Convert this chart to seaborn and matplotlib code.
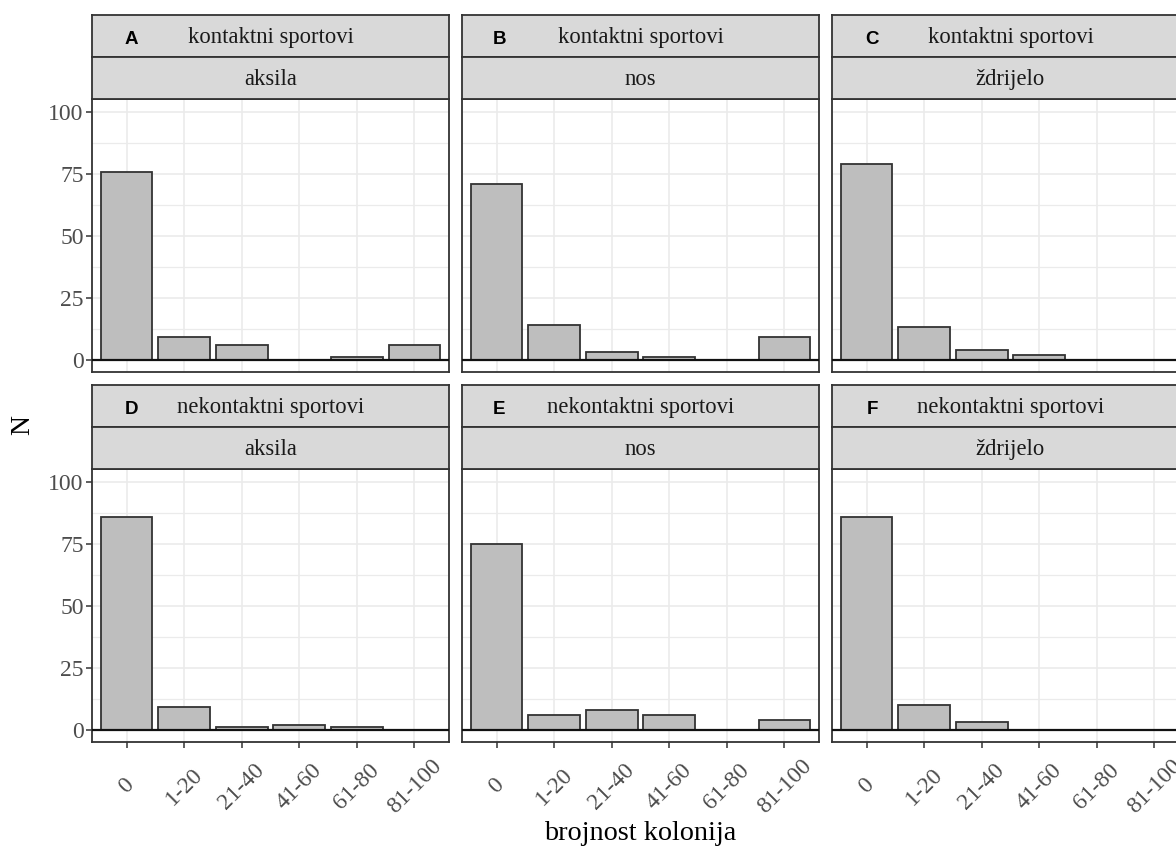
import matplotlib
matplotlib.use("Agg")
import matplotlib.pyplot as plt
import seaborn as sns
import pandas as pd
import numpy as np
from matplotlib.ticker import MultipleLocator

# ---------------- data ----------------
categories = ['0', '1-20', '21-40', '41-60', '61-80', '81-100']
sport_groups = ['kontaktni sportovi', 'nekontaktni sportovi']
sites = ['aksila', 'nos', 'ždrijelo']
panel_letters = ['A', 'B', 'C', 'D', 'E', 'F']

kontaktni_aksila = [76, 9, 6, 0, 1, 6]
kontaktni_nos = [71, 14, 3, 1, 0, 9]
kontaktni_zdrijelo = [79, 13, 4, 2, 0, 0]
nekontaktni_aksila = [86, 9, 1, 2, 1, 0]
nekontaktni_nos = [75, 6, 8, 6, 0, 4]
nekontaktni_zdrijelo = [86, 10, 3, 0, 0, 0]

series = {
    ('kontaktni sportovi', 'aksila'): kontaktni_aksila,
    ('kontaktni sportovi', 'nos'): kontaktni_nos,
    ('kontaktni sportovi', 'ždrijelo'): kontaktni_zdrijelo,
    ('nekontaktni sportovi', 'aksila'): nekontaktni_aksila,
    ('nekontaktni sportovi', 'nos'): nekontaktni_nos,
    ('nekontaktni sportovi', 'ždrijelo'): nekontaktni_zdrijelo,
}
rows = []
for (g, s), vals in series.items():
    for c, v in zip(categories, vals):
        rows.append({'grupa': g, 'mjesto': s, 'brojnost': c, 'N': v})
df = pd.DataFrame(rows)

# ---------------- style ----------------
sns.set_theme(style="white")
plt.rcParams['font.family'] = ['Liberation Serif', 'DejaVu Serif']

W, H = 1176, 847
fig = plt.figure(figsize=(W / 100, H / 100), dpi=100)

def fx(x):
    return x / W

def fy(y):
    return 1 - y / H

col_left = [92, 462, 832]
panel_w = 357
row_strip_top = [15, 385]
strip_h = 42
row_panel_top = [99, 469]
row_panel_bot = [372, 742]
letter_x = [131, 499, 872]

dark = '#333333'
grid_c = '#EBEBEB'
strip_c = '#D9D9D9'

for r, g in enumerate(sport_groups):
    for c, s in enumerate(sites):
        x0 = col_left[c]
        # panel
        ax = fig.add_axes([fx(x0), fy(row_panel_bot[r]), panel_w / W,
                           (row_panel_bot[r] - row_panel_top[r]) / H])
        sub = df[(df['grupa'] == g) & (df['mjesto'] == s)]
        sns.barplot(data=sub, x='brojnost', y='N', order=categories, ax=ax,
                    color='#BEBEBE', saturation=1, edgecolor=dark,
                    linewidth=1.3, width=0.9, errorbar=None, zorder=2)
        ax.axhline(0, color='#111111', lw=1.6, zorder=3)
        ax.set_xlim(-0.6, 5.6)
        ax.set_ylim(-5.0, 105.3)
        ax.set_yticks([0, 25, 50, 75, 100])
        ax.yaxis.set_minor_locator(MultipleLocator(12.5))
        ax.set_axisbelow(True)
        ax.grid(True, which='major', color=grid_c, lw=1.2, zorder=0)
        ax.grid(True, which='minor', axis='y', color=grid_c, lw=0.9, zorder=0)
        ax.set_xlabel('')
        ax.set_ylabel('')
        for sp in ax.spines.values():
            sp.set_color(dark)
            sp.set_linewidth(1.3)
            sp.set_visible(True)
        ax.tick_params(axis='both', which='minor', length=0)
        if c == 0:
            ax.tick_params(axis='y', which='major', length=4, width=1.1,
                           color=dark, labelcolor='#4D4D4D', labelsize=17,
                           pad=2, left=True)
        else:
            ax.tick_params(axis='y', which='major', left=False, labelleft=False)
        if r == 1:
            ax.tick_params(axis='x', which='major', length=4, width=1.1,
                           color=dark, bottom=True, pad=28)
            ax.set_xticks(range(len(categories)))
            ax.set_xticklabels(categories, rotation=45, ha='center',
                               va='center', color='#4D4D4D', fontsize=17)
        else:
            ax.tick_params(axis='x', which='major', bottom=False,
                           labelbottom=False)

        # strips
        for k, label in enumerate([g, s]):
            top = row_strip_top[r] + k * strip_h
            sax = fig.add_axes([fx(x0), fy(top + strip_h), panel_w / W, strip_h / H])
            sax.set_facecolor(strip_c)
            sax.set_xticks([])
            sax.set_yticks([])
            for sp in sax.spines.values():
                sp.set_color(dark)
                sp.set_linewidth(1.3)
                sp.set_visible(True)
            sax.text(0.5, 0.47, label, ha='center', va='center', fontsize=16.3,
                     color='#1A1A1A', transform=sax.transAxes)

        fig.text(fx(letter_x[c]), fy(row_strip_top[r] + 24), panel_letters[r * 3 + c],
                 ha='center', va='center', fontsize=13.5, fontweight='bold',
                 family=['Liberation Sans', 'DejaVu Sans'], color='black')

fig.text(fx(23), fy(425), 'N', rotation=90, ha='center', va='center',
         fontsize=20, color='black')
fig.text(fx(640), fy(833), 'brojnost kolonija', ha='center', va='center',
         fontsize=20.3, color='black')

fig.savefig('out.png', dpi=100, facecolor='white')
